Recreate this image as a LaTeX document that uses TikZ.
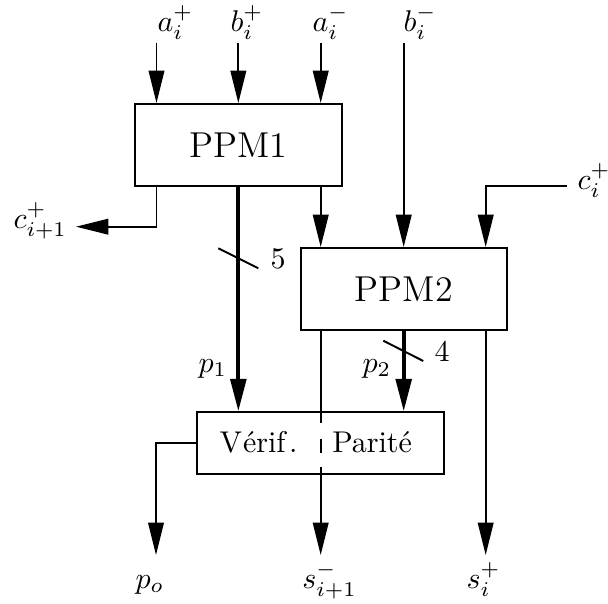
\documentclass[tikz,border=0pt]{standalone}
\usetikzlibrary{arrows.meta,calc}
\begin{document}
\begin{tikzpicture}[x=0.3333pt,y=-0.3333pt,
  thinln/.style={line width=0.65pt},
  thickln/.style={line width=1.3pt},
  arr/.style={-{Triangle[length=10.8pt,width=5.2pt]}},
  box/.style={draw,line width=0.65pt,inner sep=0pt},
  lbl/.style={inner sep=0pt,anchor=base west}]
\useasboundingbox (0,0) rectangle (608,603);
% boxes
\node[box,minimum width=68.9pt,minimum height=27.3pt,font=\large] (ppm1) at (238.35,145) {PPM1};
\node[box,minimum width=68.7pt,minimum height=27.3pt,font=\large] (ppm2) at (403.7,289) {PPM2};
\node[box,minimum width=82.3pt,minimum height=20.6pt] (vp) at (320.8,443.2) {};
\node[lbl] (vt1) at (219,452.7) {V\kern0.3ptérif\kern1.2pt.};
\node[lbl] (vt2) at (331.7,452.7) {Parité};
% input coordinates
\coordinate (ta1) at (156.5,42.7);
\coordinate (tb1) at (238.35,42.7);
\coordinate (ta2) at (320.7,42.7);
\coordinate (tb2) at (403.7,42.7);
\coordinate (ci) at (567,185.7);
\coordinate (co) at (76,226.7);
\coordinate (po) at (156,555);
\coordinate (sm) at (320.7,555);
\coordinate (sp) at (485.7,555);
% labels
\node[lbl] (la1) at (157,31) {$a_i^+$};
\node[lbl] (lb1) at (230,31) {$b_i^+$};
\node[lbl] (la2) at (312,31) {$a_i^-$};
\node[lbl] (lb2) at (403,31) {$b_i^-$};
\node[lbl] (lci) at (577,189) {$c_i^+$};
\node[lbl] (lco) at (13,228) {$c_{i+1}^+$};
\node[lbl] (l5) at (270,268) {5};
\node[lbl] (lp1) at (198,372) {$p_1$};
\node[lbl] (lp2) at (362,372) {$p_2$};
\node[lbl] (l4) at (434,361.7) {4};
\node[lbl] (lpo) at (135,588) {$p_o$};
\node[lbl] (lsm) at (301.7,588) {$s_{i+1}^-$};
\node[lbl] (lsp) at (466,588) {$s_i^+$};
% inputs to PPM1
\draw[thinln,arr] (ta1) -- (ta1 |- ppm1.north);
\draw[thinln,arr] (tb1) -- (tb1 |- ppm1.north);
\draw[thinln,arr] (ta2) -- (ta2 |- ppm1.north);
% inputs to PPM2
\draw[thinln,arr] (tb2) -- (tb2 |- ppm2.north);
\draw[thinln,arr] (ppm1.south -| ta2) -- (ta2 |- ppm2.north);
\draw[thinln,arr] (ci) -| (sp |- ppm2.north);
% carry out
\draw[thinln,arr] (ppm1.south -| ta1) |- (co);
% p1 bus
\draw[thickln,arr] (ppm1.south) -- (ppm1.south |- vp.north);
\draw[thinln] (218.3,248.3) -- (258.3,268.3);
% p2 bus
\draw[thickln,arr] (ppm2.south) -- (ppm2.south |- vp.north);
\draw[thinln] (383.3,340.7) -- (423.3,361);
% s_{i+1}^-
\draw[thinln] (sm |- ppm2.south) -- (sm |- vp.north) -- (320.7,423);
\draw[thinln] (320.7,439) -- (320.7,453);
\draw[thinln] (320.7,467) -- (sm |- vp.south);
\draw[thinln,arr] (sm |- vp.south) -- (sm);
% s_i^+
\draw[thinln,arr] (sp |- ppm2.south) -- (sp);
% p_o
\draw[thinln,arr] (vp.west) -| (po);
\end{tikzpicture}
\end{document}
